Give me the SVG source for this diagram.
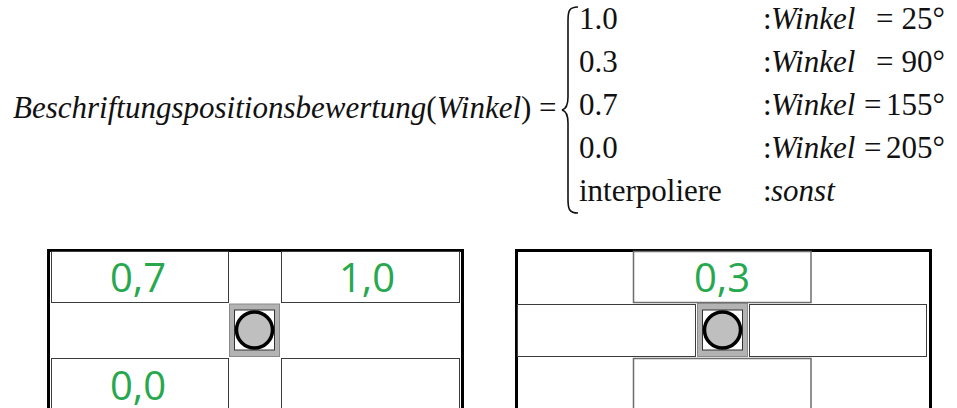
<svg xmlns="http://www.w3.org/2000/svg" width="957" height="408" viewBox="0 0 957 408">
  <style>
    .math { font-family: "Liberation Serif", "Times New Roman", serif; font-size: 31px; fill: #111; }
    .it { font-style: italic; }
    .val { font-family: "Open Sans", "Liberation Sans", sans-serif; font-size: 40px; fill: #27a84f; text-anchor: middle; }
    .frame { fill: none; stroke: #000; stroke-width: 3; }
    .cell { fill: #fff; stroke: #3c3c3c; stroke-width: 1; }
    .cell2 { fill: #fff; stroke: #6e6e6e; stroke-width: 1.5; }
    .pin { fill: #b3b3b3; stroke: #8a8a8a; stroke-width: 1; }
    .pinIn { fill: #fff; stroke: #333; stroke-width: 1; }
    .dot { fill: #bfbfbf; stroke: #000; stroke-width: 3.5; }
  </style>
  <rect width="957" height="408" fill="#fff"/>

  <!-- scoring function -->
  <g id="formula">
    <text class="math" x="13" y="118"><tspan class="it">Beschriftungspositionsbewertung</tspan>(<tspan class="it">Winkel</tspan>) =</text>
    <path d="M578,7 C569,7 568,11 568,21 L568,97 C568,105 566,109 562,110 C566,111 568,115 568,123 L568,199 C568,209 569,213 578,213" fill="none" stroke="#111" stroke-width="1.6"/>
    <text class="math" x="579" y="29">1.0</text>
    <text class="math" x="579" y="72">0.3</text>
    <text class="math" x="579" y="115">0.7</text>
    <text class="math" x="579" y="158">0.0</text>
    <text class="math" x="579" y="201">interpoliere</text>

    <text class="math" x="763" y="29">:<tspan class="it" x="771">Winkel</tspan></text>
    <text class="math" x="763" y="72">:<tspan class="it" x="771">Winkel</tspan></text>
    <text class="math" x="763" y="115">:<tspan class="it" x="771">Winkel</tspan></text>
    <text class="math" x="763" y="158">:<tspan class="it" x="771">Winkel</tspan></text>
    <text class="math" x="763" y="201">:<tspan class="it" x="771">sonst</tspan></text>

    <text class="math" x="876" y="29">=</text>
    <text class="math" x="945" y="29" text-anchor="end">25°</text>
    <text class="math" x="876" y="72">=</text>
    <text class="math" x="945" y="72" text-anchor="end">90°</text>
    <text class="math" x="864" y="115">=</text>
    <text class="math" x="945" y="115" text-anchor="end">155°</text>
    <text class="math" x="864" y="158">=</text>
    <text class="math" x="945" y="158" text-anchor="end">205°</text>
  </g>

  <!-- left panel: diagonal candidate positions -->
  <g id="panel-left">
    <rect class="frame" x="48.5" y="250.5" width="414" height="170"/>
    <g id="cell-top-left">
      <rect class="cell" x="51.5" y="251.5" width="177" height="51"/>
      <text class="val" x="138" y="292">0,7</text>
    </g>
    <g id="cell-top-right">
      <rect class="cell" x="281.5" y="251.5" width="178" height="51"/>
      <text class="val" x="367" y="292">1,0</text>
    </g>
    <g id="cell-bottom-left">
      <rect class="cell" x="51.5" y="358.5" width="177" height="60"/>
      <text class="val" x="138" y="400">0,0</text>
    </g>
    <g id="cell-bottom-right">
      <rect class="cell" x="281.5" y="358.5" width="178" height="60"/>
    </g>
    <g id="point-left">
      <rect class="pin" x="229.5" y="304" width="50" height="52.5"/>
      <rect class="pinIn" x="234.5" y="310" width="40" height="40"/>
      <circle class="dot" cx="254.5" cy="330" r="18"/>
    </g>
  </g>

  <!-- right panel: axis-aligned candidate positions -->
  <g id="panel-right">
    <rect class="frame" x="516.5" y="250.5" width="414" height="170"/>
    <g id="cell-top-middle">
      <rect class="cell2" x="633.5" y="251.5" width="177.5" height="51"/>
      <text class="val" x="722" y="292">0,3</text>
    </g>
    <g id="cell-middle-left">
      <rect class="cell" x="517.5" y="304.5" width="178" height="52"/>
    </g>
    <g id="cell-middle-right">
      <rect class="cell" x="749.5" y="304.5" width="177" height="52"/>
    </g>
    <g id="cell-bottom-middle">
      <rect class="cell2" x="633.5" y="358.5" width="177.5" height="60"/>
    </g>
    <g id="point-right">
      <rect class="pin" x="697.5" y="303.5" width="50" height="53"/>
      <rect class="pinIn" x="702.5" y="310" width="40" height="40"/>
      <circle class="dot" cx="722.5" cy="330" r="18"/>
    </g>
  </g>
</svg>
